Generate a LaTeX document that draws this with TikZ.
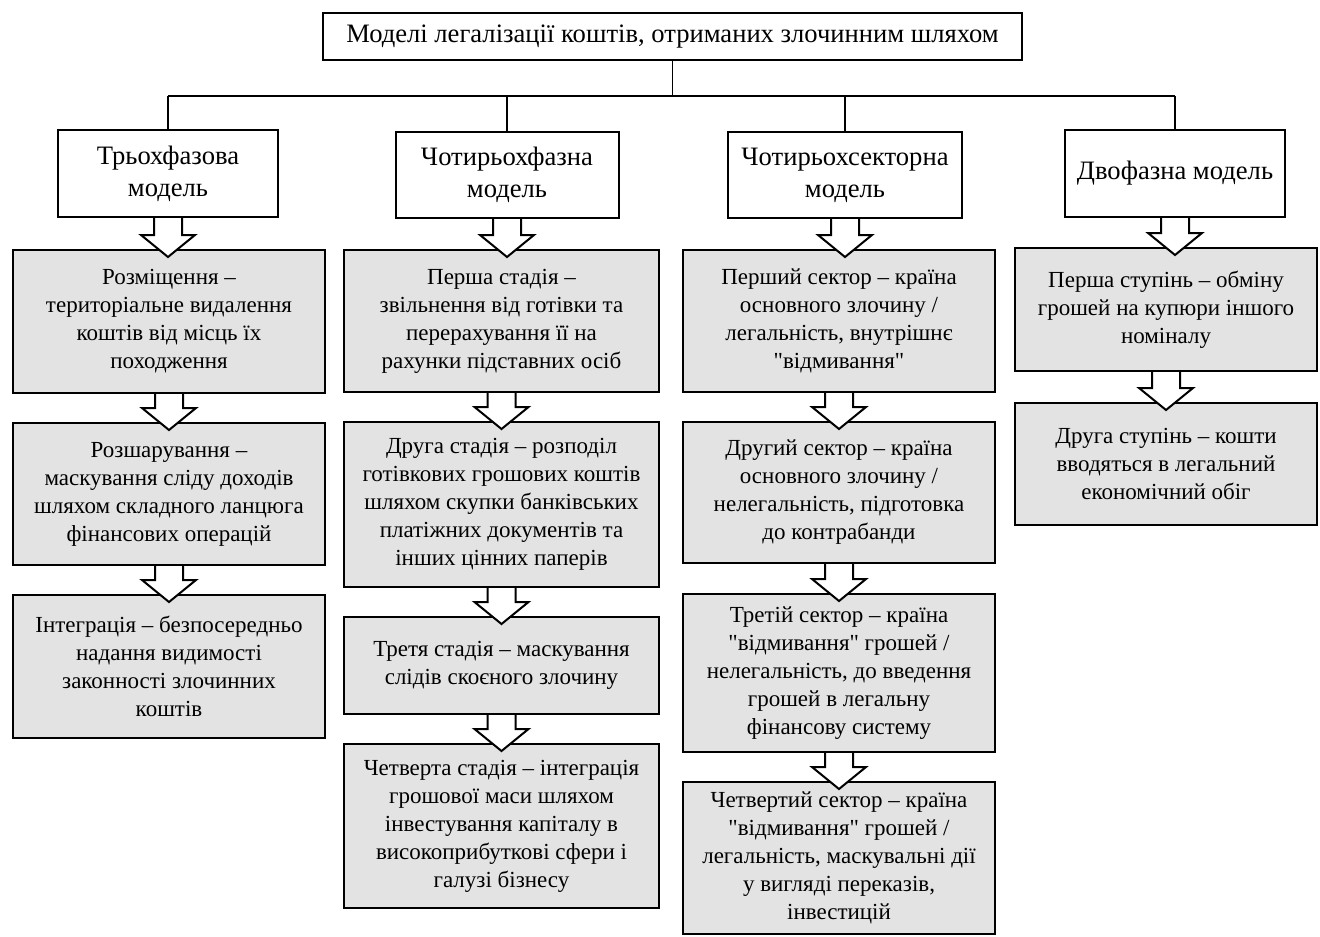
\documentclass[tikz,border=0pt]{standalone}
\usepackage{fontspec}
\setmainfont{Liberation Serif}[Ligatures=TeXOff]
\usetikzlibrary{calc}

\begin{document}
\begin{tikzpicture}[x=0.5pt,y=-0.5pt,
    model/.style={draw,line width=1pt,fill=white,align=center,inner sep=0pt,
                  font=\fontsize{13.3}{16}\selectfont},
    stage/.style={draw,line width=1pt,fill=black!11,align=center,inner sep=0pt,
                  font=\fontsize{11.5}{14}\selectfont},
    link/.style={line width=0.6pt},
    blockarrow/.style={draw,line width=1pt,fill=white,line join=miter}]
    \useasboundingbox (0,0) rectangle (1320,936);
    % top and the four models
    \node[model,minimum width=349.5pt,minimum height=23.5pt] (top) at (672.5,36.5)
        {Моделі легалізації коштів, отриманих злочинним шляхом};
    \node[model,minimum width=110pt,minimum height=43.5pt] (m1) at (168,173.5)
        {Трьохфазова\\модель};
    \node[model,minimum width=111.5pt,minimum height=43pt] (m2) at (507,175)
        {Чотирьохфазна\\модель};
    \node[model,minimum width=117pt,minimum height=43pt] (m3) at (845,175)
        {Чотирьохсекторна\\модель};
    \node[model,minimum width=110pt,minimum height=43.5pt] (m4) at (1175,173.5)
        {Двофазна модель};
    % first column
    \node[stage,minimum width=156pt,minimum height=71.5pt] (s11) at (169,321.5)
        {Розміщення –\\територіальне видалення\\коштів від місць їх\\походження};
    \node[stage,minimum width=156pt,minimum height=71pt] (s12) at (169,494)
        {Розшарування –\\маскування сліду доходів\\шляхом складного ланцюга\\фінансових операцій};
    \node[stage,minimum width=156pt,minimum height=71.5pt] (s13) at (169,666.5)
        {Інтеграція – безпосередньо\\надання видимості\\законності злочинних\\коштів};
    % second column
    \node[stage,minimum width=157.5pt,minimum height=71pt] (s21) at (501.5,321)
        {Перша стадія –\\звільнення від готівки та\\перерахування її на\\рахунки підставних осіб};
    \node[stage,minimum width=157.5pt,minimum height=82.5pt] (s22) at (501.5,504.5)
        {Друга стадія – розподіл\\готівкових грошових коштів\\шляхом скупки банківських\\платіжних документів та\\інших цінних паперів};
    \node[stage,minimum width=157.5pt,minimum height=48.5pt] (s23) at (501.5,665.5)
        {Третя стадія – маскування\\слідів скоєного злочину};
    \node[stage,minimum width=157.5pt,minimum height=82pt] (s24) at (501.5,826)
        {Четверта стадія – інтеграція\\грошової маси шляхом\\інвестування капіталу в\\високоприбуткові сфери і\\галузі бізнесу};
    % third column
    \node[stage,minimum width=156pt,minimum height=71pt] (s31) at (839,321)
        {Перший сектор – країна\\основного злочину /\\легальність, внутрішнє\\"відмивання"};
    \node[stage,minimum width=156pt,minimum height=70.5pt] (s32) at (839,492.5)
        {Другий сектор – країна\\основного злочину /\\нелегальність, підготовка\\до контрабанди};
    \node[stage,minimum width=156pt,minimum height=79pt] (s33) at (839,673)
        {Третій сектор – країна\\"відмивання" грошей /\\нелегальність, до введення\\грошей в легальну\\фінансову систему};
    \node[stage,minimum width=156pt,minimum height=76pt] (s34) at (839,858)
        {Четвертий сектор – країна\\"відмивання" грошей /\\легальність, маскувальні дії\\у вигляді переказів,\\інвестицій};
    % fourth column
    \node[stage,minimum width=151pt,minimum height=61.5pt] (s41) at (1166,309.5)
        {Перша ступінь – обміну\\грошей на купюри іншого\\номіналу};
    \node[stage,minimum width=151pt,minimum height=61pt] (s42) at (1166,464)
        {Друга ступінь – кошти\\вводяться в легальний\\економічний обіг};
    % tree lines
    \draw[link] (top.south) -- ++(0,35) coordinate (hub);
    \draw[link] (hub -| m1.north) -- (hub -| m4.north);
    \foreach \m in {m1,m2,m3,m4}
        \draw[link] (hub -| \m.north) -- (\m.north);
    % block arrows
    \foreach \a/\b in {m1/s11,s11/s12,s12/s13,m2/s21,s21/s22,s22/s23,s23/s24,
                       m3/s31,s31/s32,s32/s33,s33/s34,m4/s41,s41/s42}
        \draw[blockarrow] let \p1=(\a.south), \p2=(\b.north) in
            (\x1-7pt,\y1) -- (\x1-7pt,\y2+7pt) -- (\x1-13.5pt,\y2+7pt) -- (\x1,\y2-4pt)
            -- (\x1+13.5pt,\y2+7pt) -- (\x1+7pt,\y2+7pt) -- (\x1+7pt,\y1);
\end{tikzpicture}
\end{document}
